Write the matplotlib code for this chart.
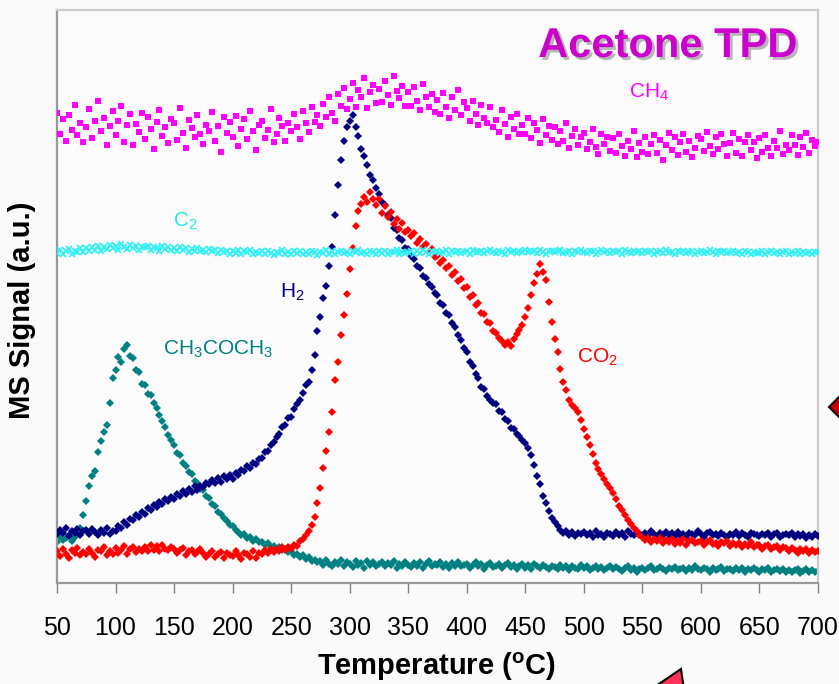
import numpy as np
import matplotlib
matplotlib.use('Agg')
import matplotlib.pyplot as plt
import matplotlib.patheffects as pe
from matplotlib.patches import Polygon

plt.rcParams['font.family'] = ['Liberation Sans', 'DejaVu Sans']
plt.rcParams['mathtext.fontset'] = 'custom'
plt.rcParams['mathtext.rm'] = 'Liberation Sans'
plt.rcParams['mathtext.it'] = 'Liberation Sans:italic'
plt.rcParams['mathtext.bf'] = 'Liberation Sans:bold'

# MS signal (a.u.), one reading every 2.5 C from 50 C to 700 C
# (each row below = 25 C)
ch4 = [
    82.1, 78.4, 80.9, 77.2, 81.6, 79.0, 83.5, 78.1, 80.3, 76.9,
    79.5, 82.8, 77.6, 80.7, 84.1, 78.9, 81.2, 76.5, 79.8, 82.4,
    78.2, 80.6, 83.3, 77.0, 79.9, 81.8, 76.4, 80.1, 78.7, 82.0,
    77.5, 81.4, 79.2, 75.8, 80.5, 82.6, 78.0, 79.6, 76.8, 81.0,
    80.2, 77.3, 82.9, 78.6, 75.9, 80.8, 79.4, 77.8, 81.7, 78.3,
    76.6, 80.0, 78.9, 82.2, 77.1, 79.7, 75.3, 81.3, 78.5, 80.4,
    77.9, 81.5, 76.2, 79.3, 80.9, 77.4, 82.4, 78.8, 75.6, 79.9,
    80.6, 77.7, 79.1, 82.7, 76.9, 78.4, 81.1, 79.8, 77.2, 80.3,
    78.9, 81.8, 79.6, 77.5, 82.3, 80.2, 78.7, 83.0, 80.5, 81.7,
    79.8, 83.6, 81.4, 84.9, 82.1, 80.6, 85.3, 83.2, 86.4, 82.8,
    84.5, 87.2, 83.1, 86.0, 84.8, 88.1, 82.9, 85.7, 86.9, 83.8,
    86.3, 84.0, 87.6, 85.1, 83.4, 88.4, 85.9, 84.6, 86.8, 83.2,
    85.7, 83.3, 86.5, 84.1, 82.6, 87.1, 84.9, 83.0, 85.4, 82.2,
    84.3, 81.9, 85.6, 83.0, 81.2, 84.8, 82.5, 86.0, 81.7, 83.9,
    82.9, 80.6, 84.2, 81.8, 79.9, 83.4, 81.1, 80.2, 83.0, 79.6,
    80.8, 78.7, 82.5, 80.1, 77.9, 81.4, 79.2, 81.9, 78.3, 80.0,
    78.4, 81.2, 77.6, 80.3, 79.0, 76.8, 80.9, 78.1, 79.7, 77.3,
    79.5, 76.6, 78.8, 77.1, 80.2, 75.9, 78.0, 79.3, 76.4, 77.8,
    78.6, 75.8, 77.0, 79.2, 76.1, 74.9, 78.3, 76.7, 77.9, 75.4,
    77.6, 75.1, 78.4, 76.3, 74.6, 77.2, 75.7, 78.9, 74.4, 76.8,
    75.3, 77.9, 74.8, 76.6, 78.2, 75.0, 77.3, 73.9, 76.4, 78.6,
    75.6, 77.8, 74.7, 76.9, 78.4, 75.2, 77.1, 74.3, 76.0, 78.0,
    77.5, 75.4, 78.7, 76.2, 74.9, 77.9, 75.8, 78.3, 76.6, 74.5,
    76.8, 78.5, 75.1, 77.4, 74.6, 76.9, 78.1, 75.5, 77.0, 74.2,
    77.7, 75.3, 78.2, 76.0, 74.5, 77.2, 75.9, 78.8, 74.8, 76.5,
    75.6, 78.1, 76.4, 74.7, 77.8, 76.1, 78.6, 75.0, 77.3, 76.2,
    77.0]

c2 = [
    57.6, 58.1, 57.4, 57.9, 58.3, 57.5, 58.0, 57.7, 58.4, 57.8,
    58.5, 57.9, 58.7, 58.2, 58.9, 58.0, 58.6, 58.3, 59.0, 58.4,
    58.8, 58.2, 59.1, 58.6, 58.3, 59.0, 58.5, 58.9, 58.1, 58.7,
    58.6, 58.9, 58.2, 58.7, 58.4, 58.0, 58.8, 58.3, 58.6, 58.1,
    58.4, 57.9, 58.6, 58.1, 58.5, 57.8, 58.3, 58.0, 58.4, 57.9,
    58.2, 57.7, 58.3, 57.9, 58.1, 57.6, 58.2, 57.8, 58.0, 57.5,
    58.0, 57.6, 58.1, 57.5, 57.9, 57.7, 58.2, 57.4, 57.8, 57.6,
    57.9, 57.5, 58.0, 57.6, 57.3, 57.8, 57.6, 58.1, 57.4, 57.7,
    57.5, 57.9, 57.6, 58.0, 57.4, 57.8, 57.5, 57.9, 57.7, 57.3,
    57.8, 57.6, 58.1, 57.5, 57.9, 57.4, 57.7, 58.0, 57.6, 57.8,
    57.5, 57.9, 57.7, 58.2, 57.6, 57.8, 57.4, 58.0, 57.7, 57.5,
    57.9, 57.6, 58.0, 57.5, 57.8, 57.7, 58.1, 57.4, 57.8, 57.6,
    57.7, 58.0, 57.5, 57.9, 57.6, 58.1, 57.8, 57.4, 57.9, 57.7,
    58.0, 57.6, 57.8, 58.2, 57.5, 57.9, 57.7, 58.0, 57.6, 57.8,
    57.9, 57.5, 58.1, 57.7, 57.8, 58.0, 57.6, 57.9, 58.2, 57.7,
    57.6, 58.0, 57.8, 57.5, 58.1, 57.7, 57.9, 57.6, 58.0, 57.8,
    58.1, 57.7, 57.9, 58.0, 57.6, 58.2, 57.8, 57.5, 57.9, 58.0,
    57.7, 57.9, 58.1, 57.6, 57.8, 58.0, 57.5, 57.9, 57.7, 58.1,
    57.8, 57.6, 58.0, 57.9, 57.5, 57.8, 58.1, 57.7, 57.9, 57.6,
    58.0, 57.7, 57.9, 57.5, 58.1, 57.8, 57.6, 58.0, 57.7, 57.9,
    57.6, 57.9, 57.7, 58.0, 57.5, 57.8, 57.9, 57.6, 58.1, 57.7,
    57.8, 57.5, 58.0, 57.7, 57.9, 57.6, 57.8, 58.0, 57.5, 57.8,
    57.9, 57.6, 57.8, 58.1, 57.7, 57.5, 57.9, 57.7, 58.0, 57.6,
    57.7, 58.0, 57.6, 57.8, 57.5, 57.9, 57.7, 57.4, 57.8, 57.6,
    57.6, 57.9, 57.5, 57.7, 58.0, 57.6, 57.8, 57.4, 57.7, 57.9,
    57.5, 57.8, 57.6, 57.9, 57.4, 57.7, 57.6, 57.8, 57.5, 57.7,
    57.8]

h2 = [
    8.5, 9.3, 8.7, 9.6, 8.2, 9.1, 8.8, 9.4, 8.4, 9.0,
    9.2, 8.6, 9.5, 8.9, 8.3, 9.3, 8.8, 9.6, 8.5, 9.1,
    9.0, 9.9, 9.6, 10.6, 10.2, 11.1, 11.0, 11.9, 11.5, 12.4,
    12.1, 13.1, 12.8, 13.6, 13.2, 14.2, 13.7, 14.6, 14.3, 15.0,
    14.6, 15.5, 15.2, 16.1, 15.6, 16.4, 15.9, 16.9, 16.3, 17.0,
    16.7, 17.5, 17.2, 18.0, 17.5, 18.3, 17.7, 18.6, 18.1, 18.8,
    18.2, 19.2, 18.8, 19.7, 19.5, 20.4, 20.0, 21.0, 20.8, 21.7,
    21.8, 22.9, 23.0, 24.1, 24.6, 25.5, 26.0, 27.2, 27.5, 28.8,
    29.0, 30.4, 31.2, 32.0, 33.1, 34.6, 35.0, 37.2, 39.8, 44.0,
    46.5, 49.8, 51.8, 55.3, 58.6, 64.2, 69.5, 73.8, 77.2, 79.6,
    80.6, 81.7, 79.6, 78.0, 75.8, 74.6, 72.9, 71.2, 70.4, 68.9,
    67.9, 66.5, 66.0, 64.3, 63.7, 62.0, 61.6, 60.2, 59.8, 58.5,
    58.3, 57.0, 56.5, 55.4, 55.0, 53.6, 53.2, 52.1, 51.7, 50.6,
    50.2, 48.9, 48.5, 47.2, 46.8, 45.3, 44.6, 43.2, 42.4, 41.0,
    40.3, 38.6, 37.9, 36.4, 35.8, 34.2, 33.9, 32.6, 32.0, 31.5,
    31.2, 30.0, 29.8, 28.7, 28.3, 27.0, 26.9, 26.0, 25.6, 24.9,
    24.4, 23.5, 22.3, 20.6, 18.7, 17.2, 15.1, 13.9, 12.5, 11.4,
    10.6, 9.9, 9.3, 8.7, 9.1, 8.4, 8.9, 8.2, 8.8, 8.5,
    8.9, 8.3, 8.7, 8.1, 9.0, 8.4, 8.6, 8.0, 8.8, 8.5,
    8.2, 8.9, 8.4, 8.7, 8.1, 9.1, 8.5, 8.3, 8.8, 8.6,
    8.4, 8.7, 8.2, 9.0, 8.5, 8.1, 8.8, 8.4, 8.9, 8.3,
    8.7, 8.2, 8.9, 8.4, 8.6, 8.0, 8.8, 8.5, 8.3, 9.0,
    8.5, 8.1, 8.7, 8.9, 8.3, 8.6, 8.2, 8.8, 8.4, 8.0,
    8.6, 8.3, 8.9, 8.2, 8.7, 8.4, 8.1, 8.8, 8.5, 8.3,
    8.2, 8.6, 8.4, 8.8, 8.1, 8.5, 8.7, 8.0, 8.4, 8.6,
    8.3, 8.7, 8.0, 8.5, 8.2, 8.6, 7.9, 8.4, 8.1, 8.5,
    8.2]

co2 = [
    5.6, 4.7, 5.9, 5.0, 4.4, 5.7, 5.2, 6.1, 4.8, 5.4,
    5.0, 6.0, 5.3, 4.6, 5.8, 5.5, 6.2, 4.9, 5.6, 5.1,
    6.1, 5.3, 5.8, 6.4, 5.0, 5.9, 6.3, 5.4, 6.0, 5.5,
    6.2, 5.6, 6.6, 5.8, 6.4, 5.5, 6.7, 6.0, 5.7, 6.3,
    5.9, 5.2, 5.7, 6.1, 4.9, 5.5, 5.8, 5.0, 5.4, 5.9,
    5.3, 4.6, 5.1, 5.6, 4.5, 5.0, 5.4, 4.3, 5.2, 4.8,
    4.7, 5.5, 4.9, 4.2, 5.3, 5.0, 4.6, 5.6, 4.4, 5.2,
    5.1, 5.8, 5.3, 6.0, 5.4, 5.9, 5.6, 6.2, 5.7, 6.3,
    6.0, 6.6, 6.4, 7.3, 7.6, 8.4, 9.0, 10.2, 11.5, 14.0,
    16.5, 20.0, 23.0, 26.4, 29.8, 35.5, 38.6, 43.2, 46.8, 50.5,
    54.8, 58.5, 62.3, 64.9, 66.2, 67.4, 66.5, 68.2, 67.1, 66.0,
    67.0, 64.6, 65.8, 63.9, 64.8, 62.7, 63.5, 61.8, 62.9, 61.2,
    61.6, 60.5, 61.0, 59.4, 60.1, 58.6, 59.2, 57.7, 58.3, 56.9,
    57.0, 55.8, 56.4, 54.9, 55.3, 53.8, 54.2, 52.7, 53.1, 51.5,
    51.6, 49.9, 50.3, 48.5, 48.9, 47.2, 47.0, 45.6, 45.3, 44.0,
    43.6, 42.8, 42.3, 41.5, 42.0, 41.3, 42.6, 43.4, 44.2, 45.0,
    46.5, 48.0, 50.2, 52.4, 54.0, 55.6, 54.3, 52.8, 49.0, 45.5,
    42.6, 40.3, 37.4, 35.0, 33.6, 32.0, 31.1, 30.5, 29.9, 28.4,
    26.8, 25.4, 24.0, 22.5, 21.0, 19.9, 19.0, 18.1, 17.3, 16.5,
    15.7, 14.6, 13.5, 12.7, 11.8, 11.0, 10.3, 9.6, 9.0, 8.4,
    8.1, 7.5, 7.9, 7.1, 7.7, 7.3, 7.8, 6.9, 7.5, 7.2,
    7.6, 6.8, 7.4, 7.0, 7.7, 6.7, 7.3, 7.5, 6.9, 7.2,
    7.3, 6.6, 7.1, 7.5, 6.8, 7.0, 6.5, 7.2, 6.9, 7.4,
    6.4, 7.0, 6.6, 6.9, 6.2, 6.8, 6.5, 7.1, 6.3, 6.7,
    6.6, 6.0, 6.4, 6.7, 5.9, 6.3, 6.5, 5.8, 6.2, 6.1,
    5.5, 6.1, 5.7, 5.3, 6.0, 5.6, 5.9, 5.2, 5.8, 5.4,
    5.5]

acetone = [
    7.2, 8.0, 7.5, 7.8, 8.3, 7.4, 8.1, 8.6, 9.6, 11.8,
    14.3, 16.9, 18.6, 19.5, 22.8, 24.7, 26.4, 27.6, 31.5, 35.8,
    37.2, 39.4, 38.5, 40.9, 41.5, 39.6, 39.2, 37.1, 36.9, 34.8,
    34.6, 33.0, 32.8, 31.4, 30.5, 29.4, 28.2, 27.3, 25.9, 25.0,
    24.0, 22.7, 22.4, 21.0, 20.5, 19.3, 19.0, 17.8, 17.4, 16.4,
    16.2, 15.1, 14.8, 13.7, 13.5, 12.4, 12.1, 11.3, 10.9, 10.2,
    9.9, 9.2, 8.9, 8.4, 8.5, 7.9, 8.0, 7.4, 7.6, 7.1,
    7.2, 6.6, 6.9, 6.3, 6.5, 6.0, 6.2, 5.7, 5.9, 5.4,
    5.5, 4.9, 5.1, 4.6, 4.8, 4.2, 4.5, 3.8, 4.1, 3.6,
    3.9, 3.2, 4.0, 3.4, 2.9, 3.7, 3.3, 4.1, 3.0, 3.6,
    3.4, 2.8, 3.8, 3.1, 3.5, 2.7, 3.9, 3.2, 3.6, 3.0,
    3.3, 3.7, 2.9, 3.5, 3.1, 3.8, 2.6, 3.4, 3.0, 3.6,
    3.2, 2.8, 3.5, 3.0, 3.7, 2.7, 3.3, 3.9, 2.9, 3.4,
    3.1, 3.6, 2.8, 3.3, 2.6, 3.5, 3.0, 3.7, 2.9, 3.2,
    3.4, 2.7, 3.1, 3.6, 2.9, 3.3, 2.5, 3.2, 3.5, 2.8,
    3.0, 3.4, 2.6, 3.1, 3.5, 2.8, 3.2, 2.4, 3.0, 3.3,
    2.7, 3.1, 2.5, 3.3, 2.9, 2.6, 3.2, 2.8, 2.4, 3.0,
    2.8, 2.4, 3.1, 2.6, 2.9, 2.3, 3.0, 2.7, 2.5, 3.2,
    2.6, 2.9, 2.3, 2.7, 3.0, 2.4, 2.8, 2.2, 2.6, 2.9,
    2.4, 2.8, 2.5, 2.1, 2.7, 2.9, 2.3, 2.6, 2.0, 2.5,
    2.7, 2.3, 2.6, 2.9, 2.2, 2.5, 2.8, 2.4, 2.1, 2.6,
    2.4, 2.8, 2.2, 2.5, 2.7, 2.1, 2.6, 2.3, 2.9, 2.4,
    2.2, 2.6, 2.4, 2.0, 2.7, 2.3, 2.5, 2.8, 2.1, 2.4,
    2.5, 2.1, 2.7, 2.3, 2.6, 1.9, 2.4, 2.2, 2.7, 2.3,
    2.0, 2.4, 2.2, 2.6, 1.9, 2.3, 2.5, 2.1, 2.4, 2.0,
    2.3, 1.9, 2.2, 2.5, 1.8, 2.1, 2.4, 2.0, 2.3, 1.9,
    2.1]

for s in (ch4, c2, h2, co2, acetone):
    assert len(s) == 261, len(s)


def temps(sig):
    return 50 + 2.5 * np.arange(len(sig))


fig = plt.figure(figsize=(8.39, 6.84), dpi=100, facecolor='#fafafa')
ax = fig.add_axes([57 / 839, 1 - 583 / 684, 761 / 839, 573 / 684])
ax.set_facecolor('#fbfbfb')

ax.plot(temps(acetone), acetone, 'D', color='#008080', ms=4.4, mew=0, zorder=2)
ax.plot(temps(h2), h2, 'D', color='#000080', ms=4.4, mew=0, zorder=3)
ax.plot(temps(co2), co2, 'D', color='#ff0000', ms=4.4, mew=0, zorder=4)
ax.plot(temps(c2), c2, 'x', color='#33f0f5', ms=4.5, mew=1.3, zorder=5)
ax.plot(temps(ch4), ch4, 's', color='#ff00ff', ms=5.0, mew=0, zorder=6)

# series labels
lab = dict(fontsize=15, ha='center', va='center')
ax.text(556, 85.7, 'CH$_4$', color='#ff00ff', **lab)
ax.text(160, 63.2, 'C$_2$', color='#22e8f0', **lab)
ax.text(251, 50.8, 'H$_2$', color='#000080', **lab)
ax.text(187.5, 40.7, 'CH$_3$COCH$_3$', color='#008080', **lab)
ax.text(512, 39.3, 'CO$_2$', color='#ff0000', **lab)

ax.set_xlim(50, 700)
ax.set_ylim(0, 100)
ax.set_xticks(np.arange(50, 701, 50))
ax.set_yticks([])
ax.tick_params(axis='x', direction='out', length=7, width=1, color='#808080',
               labelsize=18, pad=17)
for side in ('left', 'bottom'):
    ax.spines[side].set_color('#999999')
    ax.spines[side].set_linewidth(1.6)
for side in ('top', 'right'):
    ax.spines[side].set_color('#cccccc')
    ax.spines[side].set_linewidth(1.6)

fig.text(437 / 839, 1 - 667 / 684, r'Temperature ($^{\mathbf{o}}$C)',
         fontsize=21, fontweight='bold', ha='center', va='center')
fig.text(22 / 839, 1 - 310 / 684, 'MS Signal (a.u.)', rotation=90,
         fontsize=21, fontweight='bold', ha='center', va='center')

fig.text(797 / 839, 1 - 46 / 684, 'Acetone TPD', fontsize=30,
         fontweight='bold', color='#cc00cc', ha='right', va='center',
         path_effects=[pe.SimplePatchShadow(offset=(2, -2), shadow_rgbFace='#888888', alpha=0.6),
                       pe.Normal()])

# red pointer shapes poking in from the edges
def px(x, y):
    return (x / 839, 1 - y / 684)

fig.patches.append(Polygon([px(829, 407), px(841, 395), px(841, 419)],
                           closed=True, transform=fig.transFigure,
                           facecolor='#cc0000', edgecolor='black', lw=1.5))
fig.patches.append(Polygon([px(681, 669), px(650, 690), px(684, 690)],
                           closed=True, transform=fig.transFigure,
                           facecolor='#ff3355', edgecolor='black', lw=1.5))

fig.savefig('out.png', dpi=100, facecolor=fig.get_facecolor())
